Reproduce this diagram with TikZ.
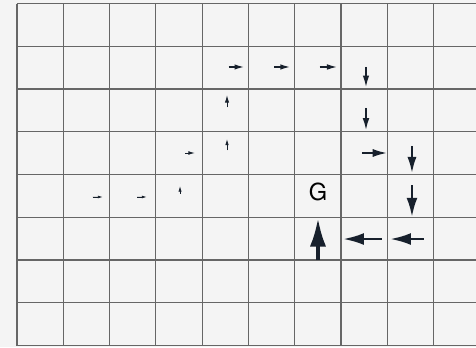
\documentclass[tikz,border=0pt]{standalone}
\usepackage{fontspec}
\setmainfont{TeX Gyre Heros}
\usetikzlibrary{arrows.meta}
\definecolor{paperbg}{HTML}{F4F4F4}
\definecolor{policyink}{HTML}{17202C}

\begin{document}
\begin{tikzpicture}[
  x=46.3pt,
  y=42.75pt,
  gridline/.style={draw=black!60, line width=1.2pt},
  policyarrow/.style={draw=policyink, fill=policyink},
  goallabel/.style={font=\fontsize{23.5}{28}\selectfont, text=black, inner sep=0pt}
]
  \path[fill=paperbg, use as bounding box] (-0.367,-0.035) rectangle (9.914,8.082);

  \foreach \y in {0,...,8} {
    \draw[gridline] (0,\y) -- (9.914,\y);
  }
  \foreach \x in {0,...,9} {
    \draw[gridline] (\x,0) -- (\x,8);
  }

  \node[goallabel] (goal) at (6.501,3.591) {G};

  % x0/y0/x1/y1/size
  \foreach \xa/\ya/\xb/\yb/\s in {
      4.579/6.515/4.903/6.515/1,
      5.551/6.515/5.896/6.515/1,
      6.544/6.515/6.911/6.515/1.05,
      7.538/6.515/7.538/6.047/1.2,
      4.536/5.579/4.536/5.860/0.8,
      7.538/5.556/7.538/5.041/1.25,
      3.629/4.503/3.844/4.503/0.7,
      4.536/4.573/4.536/4.830/0.65,
      7.451/4.503/7.991/4.503/1.5,
      8.531/4.667/8.531/4.035/1.7,
      1.635/3.474/1.851/3.474/0.5,
      2.592/3.474/2.801/3.474/0.5,
      3.521/3.544/3.521/3.731/0.6,
      8.531/3.754/8.531/3.006/2,
      6.501/2.000/6.501/2.982/3,
      7.883/2.491/7.041/2.491/2.2,
      8.790/2.491/8.056/2.491/2.2} {
    \pgfmathsetmacro{\shaft}{1.25*\s}
    \pgfmathsetmacro{\tiplen}{9.5*\s}
    \pgfmathsetmacro{\tipwid}{5.4*\s}
    \draw[policyarrow, line width=\shaft pt, -{Latex[length=\tiplen pt, width=\tipwid pt]}] (\xa,\ya) -- (\xb,\yb);
  }
\end{tikzpicture}
\end{document}
